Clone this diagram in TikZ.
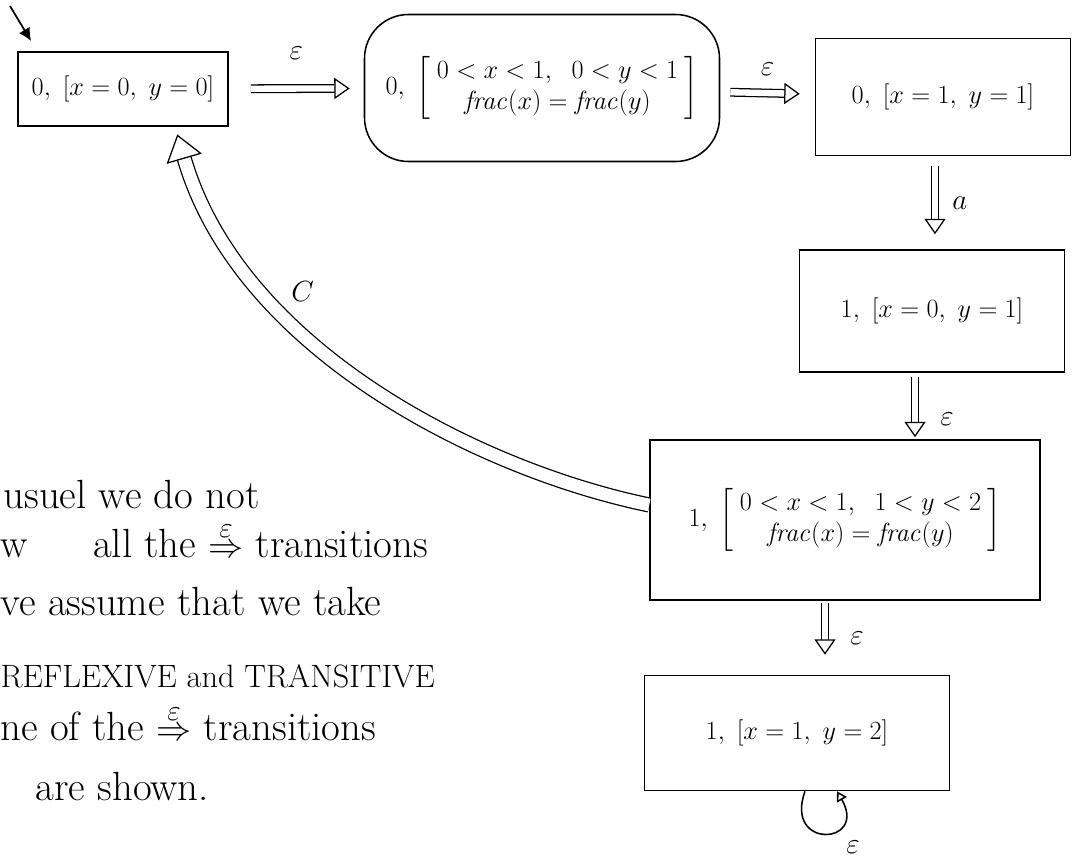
\documentclass[tikz,border=0pt]{standalone}
\usepackage{amsmath}
\usepackage{graphicx}
\usepackage{tikz}
\usetikzlibrary{arrows.meta,calc,positioning}

\newcommand{\region}[1]{\scalebox{0.9}{$#1$}}

\tikzset{
  state/.style={draw, rectangle, line width=1.1pt, font=\fontsize{20}{24}\selectfont, inner sep=4pt},
  dbl/.style={double, double distance=4.5pt, line width=0.9pt, -{Triangle[open,length=11pt,width=15pt]}},
  lbl/.style={font=\fontsize{20}{24}\selectfont},
  note/.style={anchor=base west, inner sep=0pt, font=\fontsize{29}{32}\selectfont},
}

\begin{document}
\begin{tikzpicture}[x=0.25mm, y=-0.25mm, thick]
        \useasboundingbox (0,0) rectangle (1072,858);

        % States of the region graph
        \node[state, minimum width=52.5mm, minimum height=18.5mm] (s0) at (123,89) {\region{0,\ [x=0,\ y=0]}};
        \node[state, rounded corners=11mm, minimum width=88.75mm, minimum height=36.75mm] (s1) at (542,88)
          {\region{0,\ \left[\begin{array}{c} 0<x<1,\ \ 0<y<1\\ \mathit{frac}(x)=\mathit{frac}(y)\end{array}\right]}};
        \node[state, minimum width=63.75mm, minimum height=29.25mm] (s2) at (943,97) {\region{0,\ [x=1,\ y=1]}};
        \node[state, minimum width=66.25mm, minimum height=30.5mm] (s3) at (932,311) {\region{1,\ [x=0,\ y=1]}};
        \node[state, minimum width=97.5mm, minimum height=40mm] (s4) at (845,520)
          {\region{1,\ \left[\begin{array}{c} 0<x<1,\ \ 1<y<2\\ \mathit{frac}(x)=\mathit{frac}(y)\end{array}\right]}};
        \node[state, minimum width=76.25mm, minimum height=28.75mm] (s5) at (797,733) {\region{1,\ [x=1,\ y=2]}};

        % Initial arrow
        \coordinate (init) at (10,6);
        \draw[line width=1.2pt, -{Latex[length=9pt,width=9pt]}, shorten >=3mm] (init) -- ([xshift=5mm]s0.north west);

        % Transitions
        \draw[dbl, shorten <=5.5mm, shorten >=3.5mm] (s0) -- (s1) node[lbl, midway, above=6mm] {$\varepsilon$};
        \draw[dbl, shorten <=2.5mm, shorten >=3.75mm] (s1) -- (s2) node[lbl, midway, above=3mm] {$\varepsilon$};
        \draw[dbl, shorten <=2.5mm, shorten >=3.75mm] (935,0 |- s2.south) -- (935,0 |- s3.north)
          node[lbl, midway, right=3mm] {$a$};
        \draw[dbl, shorten <=1mm, shorten >=0.5mm] (915,0 |- s3.south) -- (915,0 |- s4.north)
          node[lbl, pos=0.7, right=5mm] {$\varepsilon$};
        \draw[dbl, shorten <=0.5mm, shorten >=5mm] (825,0 |- s4.south) -- (825,0 |- s5.north)
          node[lbl, midway, right=5mm] {$\varepsilon$};

        % Reset back to the initial region
        \draw[double, double distance=9pt, line width=0.9pt, -{Triangle[open,length=18pt,width=26pt]}, shorten >=2mm]
          ([yshift=3.75mm]s4.west) .. controls (480,470) and (240,350) .. ([xshift=13mm]s0.south)
          node[lbl, pos=0.68, above right=1mm] {$C$};

        % Self loop
        \draw[line width=1.1pt, -{Triangle[open,length=7pt,width=8pt]}]
          ([xshift=2mm]s5.south) to[out=-110, in=-60, looseness=5] ([xshift=10mm]s5.south)
          node[lbl, below right=11mm and 1mm] {$\varepsilon$};

        % Note on the left
        \node[note] (n1) at (3,508) {usuel we do not};
        \node[note] (n2) at (0,557) {w\hspace{1.3em} all the $\stackrel{\varepsilon}{\Rightarrow}$ transitions};
        \node[note] (n3) at (0,615) {ve assume that we take};
        \node[note, font=\fontsize{23}{26}\selectfont] (n4) at (0,687) {REFLEXIVE and TRANSITIVE};
        \node[note] (n5) at (0,740) {ne of the $\stackrel{\varepsilon}{\Rightarrow}$ transitions};
        \node[note] (n6) at (35,800) {are shown.};
\end{tikzpicture}
\end{document}
